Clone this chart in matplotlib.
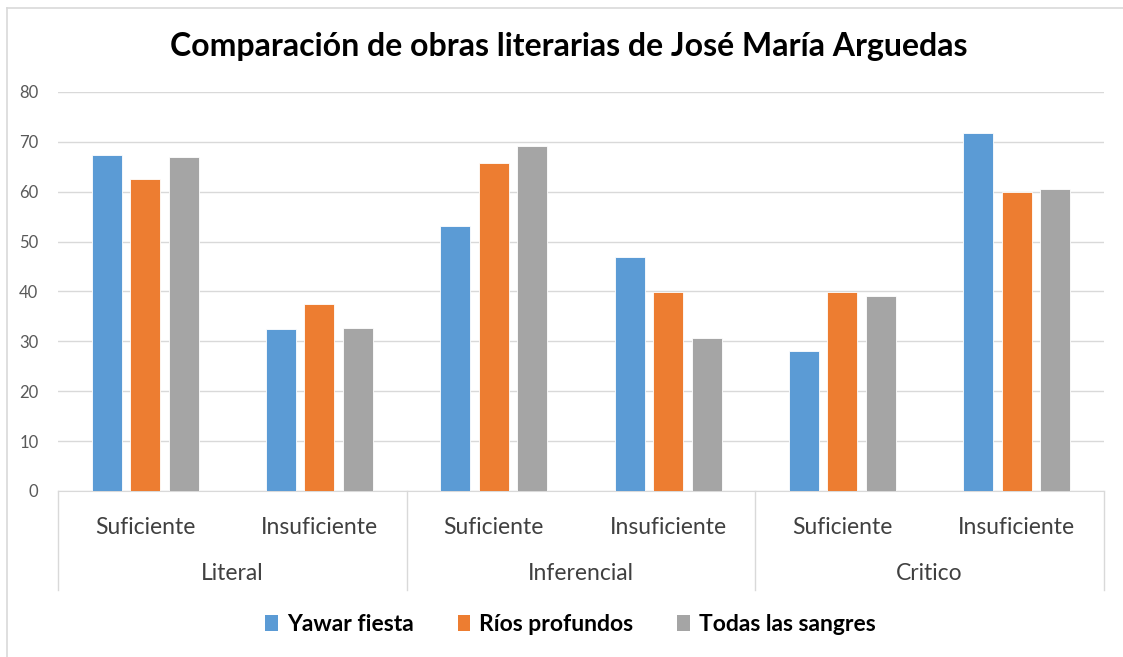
import matplotlib.pyplot as plt
import numpy as np
from matplotlib.lines import Line2D
from matplotlib.patches import Patch

# datos
niveles = ['Literal', 'Inferencial', 'Critico']
subcategorias = ['Suficiente', 'Insuficiente'] * 3
obras = ['Yawar fiesta', 'Ríos profundos', 'Todas las sangres']
yawar_fiesta = [67.4, 32.4, 53.1, 46.9, 28.1, 71.7]
rios_profundos = [62.6, 37.5, 65.8, 39.8, 39.8, 59.9]
todas_las_sangres = [67.0, 32.6, 69.1, 30.7, 39.1, 60.6]
colores = ['#5B9BD5', '#ED7D31', '#A5A5A5']

plt.rcParams['font.family'] = ['Lato', 'DejaVu Sans']

fig = plt.figure(figsize=(11.23, 6.57), dpi=100)
ax = fig.add_axes([0.0516, 0.2527, 0.9314, 0.6073])

x = np.arange(len(subcategorias))
ancho = 0.172
paso = 0.221
for i, (serie, color) in enumerate(zip([yawar_fiesta, rios_profundos, todas_las_sangres], colores)):
    ax.bar(x + (i - 1) * paso, serie, width=ancho, color=color,
           edgecolor='white', linewidth=0.6, zorder=3)

# ejes y cuadricula
ax.set_ylim(0, 80)
ax.set_xlim(-0.5, len(subcategorias) - 0.5)
ax.set_yticks(range(0, 81, 10))
ax.yaxis.grid(True, color='#D9D9D9', linewidth=1, zorder=0)
for lado in ['top', 'right', 'left']:
    ax.spines[lado].set_visible(False)
ax.spines['bottom'].set_color('#D9D9D9')
ax.tick_params(axis='y', length=0, labelsize=12, labelcolor='#595959', pad=14)
ax.tick_params(axis='x', length=0, labelsize=16.5, labelcolor='#404040', pad=19)
ax.set_xticks(x)
ax.set_xticklabels(subcategorias)

# eje de dos niveles
trans = ax.get_xaxis_transform()
for sep in [-0.5, 1.5, 3.5, 5.5]:
    ax.add_line(Line2D([sep, sep], [0, -0.248], transform=trans, color='#D9D9D9',
                       linewidth=1, clip_on=False))
for j, nivel in enumerate(niveles):
    ax.text(2 * j + 0.5, -0.208, nivel, transform=trans, ha='center', va='center',
            fontsize=16.5, color='#404040')

ax.set_title('Comparación de obras literarias de José María Arguedas',
             fontsize=23, fontweight='bold', pad=26, x=0.488)

handles = [Patch(facecolor=c) for c in colores]
fig.legend(handles, obras, loc='center', bbox_to_anchor=(0.508, 0.05), ncol=3,
           frameon=False, prop={'size': 16.5, 'weight': 'bold'}, handlelength=0.55,
           handleheight=0.7, handletextpad=0.4, columnspacing=1.9)

# marco del grafico
fig.add_artist(Line2D([7 / 1123, 7 / 1123], [0, 1 - 8 / 657], transform=fig.transFigure,
                      color='#D9D9D9', linewidth=1.2))
fig.add_artist(Line2D([7 / 1123, 1], [1 - 8 / 657, 1 - 8 / 657], transform=fig.transFigure,
                      color='#D9D9D9', linewidth=1.2))

fig.savefig('out.png', dpi=100)
